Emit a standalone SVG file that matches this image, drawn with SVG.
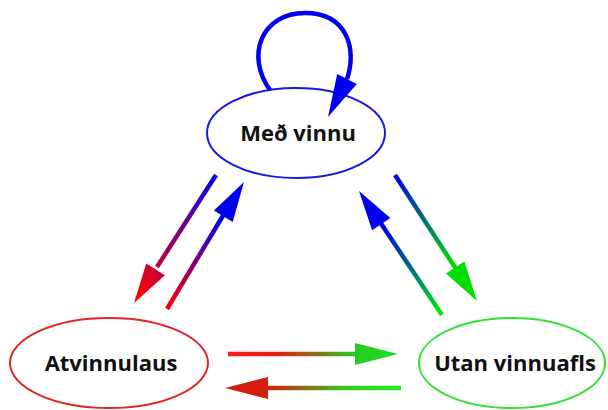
<svg xmlns="http://www.w3.org/2000/svg" width="608" height="410" viewBox="0 0 608 410">
<style>
.node{fill:#fff;stroke-width:2}
.lbl{font-family:"Open Sans","Liberation Sans",sans-serif;font-weight:bold;font-size:22px;text-anchor:middle;fill:#111}
.ln{fill:none;stroke-width:4.5}
</style>
<defs>
<linearGradient id="gTL" gradientUnits="userSpaceOnUse" x1="216" y1="175" x2="140" y2="295"><stop offset="0" stop-color="#0000ee"/><stop offset="1" stop-color="#ff0000"/></linearGradient>
<linearGradient id="gLT" gradientUnits="userSpaceOnUse" x1="167" y1="309" x2="240" y2="190"><stop offset="0" stop-color="#ff0000"/><stop offset="0.75" stop-color="#0000ee"/><stop offset="1" stop-color="#0000ee"/></linearGradient>
<linearGradient id="gTR" gradientUnits="userSpaceOnUse" x1="395" y1="175" x2="472" y2="295"><stop offset="0" stop-color="#0000ee"/><stop offset="0.75" stop-color="#00dd00"/><stop offset="1" stop-color="#00dd00"/></linearGradient>
<linearGradient id="gRT" gradientUnits="userSpaceOnUse" x1="442" y1="315" x2="365" y2="198"><stop offset="0" stop-color="#00ee00"/><stop offset="0.75" stop-color="#0000ee"/><stop offset="1" stop-color="#0000ee"/></linearGradient>
<linearGradient id="gLR" gradientUnits="userSpaceOnUse" x1="228" y1="0" x2="398" y2="0"><stop offset="0" stop-color="#ff1a1a"/><stop offset="0.3" stop-color="#e02010"/><stop offset="0.75" stop-color="#22cc22"/><stop offset="1" stop-color="#22dd22"/></linearGradient>
<linearGradient id="gRL" gradientUnits="userSpaceOnUse" x1="401" y1="0" x2="225" y2="0"><stop offset="0" stop-color="#22ee22"/><stop offset="0.3" stop-color="#33cc22"/><stop offset="0.75" stop-color="#d02010"/><stop offset="1" stop-color="#e01a10"/></linearGradient>
</defs>
<g id="med-vinnu"><ellipse class="node" cx="296" cy="133" rx="89" ry="45" stroke="#1a1adc"/><text class="lbl" x="298" y="141">Með vinnu</text></g>
<g id="atvinnulaus"><ellipse class="node" cx="109" cy="363" rx="99" ry="45" stroke="#e02525"/><text class="lbl" x="111" y="371">Atvinnulaus</text></g>
<g id="utan-vinnuafls"><ellipse class="node" cx="512" cy="363" rx="93" ry="45" stroke="#33e033"/><text class="lbl" x="515" y="371">Utan vinnuafls</text></g>
<g id="connectors">
<g id="loop"><path class="ln" d="M270 90 C245 55 262 13 305 13 C348 13 357 50 347 79" stroke="#0000ee"/><polygon points="328,117 356.8,83.9 337.2,74.1" fill="#0000ee"/></g>
<g id="top-left"><path class="ln" d="M216 175 L157 267" stroke="url(#gTL)"/><polygon points="134,303 164.9,275.2 146.3,263.4" fill="url(#gTL)"/></g>
<g id="left-top"><path class="ln" d="M167 309 L224 214" stroke="url(#gLT)"/><polygon points="244,182 232.7,221.9 213.9,210.5" fill="url(#gLT)"/></g>
<g id="top-right"><path class="ln" d="M395 175 L456 269" stroke="url(#gTR)"/><polygon points="477,301 464.4,261.5 446,273.5" fill="url(#gTR)"/></g>
<g id="right-top"><path class="ln" d="M442 315 L380 222" stroke="url(#gRT)"/><polygon points="359,191 390.3,218.1 372.1,230.3" fill="url(#gRT)"/></g>
<g id="left-right"><path class="ln" d="M228 354 L358 354" stroke="url(#gLR)"/><polygon points="398,354 355,343 355,365" fill="url(#gLR)"/></g>
<g id="right-left"><path class="ln" d="M401 388 L266 388" stroke="url(#gRL)"/><polygon points="225,388 268,377 268,399" fill="url(#gRL)"/></g>
</g>
</svg>
